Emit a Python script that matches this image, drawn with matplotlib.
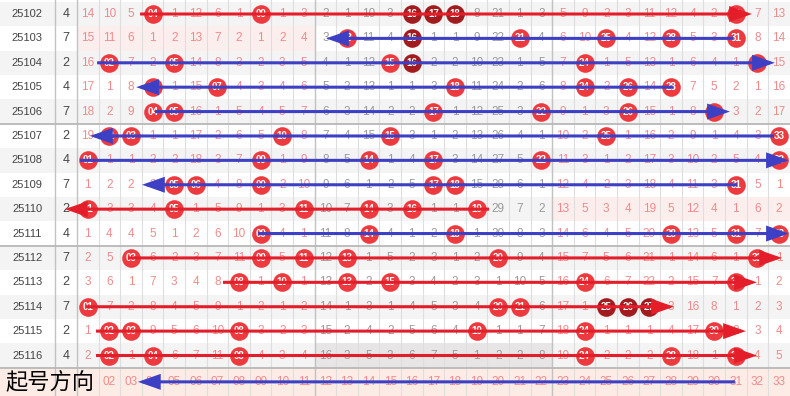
import numpy as np
import matplotlib.pyplot as plt
from matplotlib.patches import Rectangle

plt.rcParams['font.family'] = ['Liberation Sans', 'DejaVu Sans']

# issue numbers and the small digit column next to them
issues = ['25102', '25103', '25104', '25105', '25106', '25107', '25108', '25109',
          '25110', '25111', '25112', '25113', '25114', '25115', '25116']
tail_digit = [4, 7, 2, 4, 7, 2, 4, 7, 2, 4, 7, 2, 7, 2, 4]

# omission values for numbers 01..33, 0 = number drawn (ball)
omit = [
    [14, 10, 5, 0, 1, 12, 6, 1, 0, 1, 3, 2, 1, 10, 3, 0, 0, 0, 8, 21, 1, 3, 5, 9, 2, 3, 11, 12, 4, 2, 0, 7, 13],
    [15, 11, 6, 1, 2, 13, 7, 2, 1, 2, 4, 3, 0, 11, 4, 0, 1, 1, 9, 22, 0, 4, 6, 10, 0, 4, 12, 0, 5, 3, 0, 8, 14],
    [16, 0, 7, 2, 0, 14, 8, 3, 2, 3, 5, 4, 1, 12, 0, 0, 2, 2, 10, 23, 1, 5, 7, 0, 1, 5, 13, 1, 6, 4, 1, 0, 15],
    [17, 1, 8, 0, 1, 15, 0, 4, 3, 4, 6, 5, 2, 13, 1, 1, 3, 0, 11, 24, 2, 6, 8, 0, 2, 0, 14, 0, 7, 5, 2, 1, 16],
    [18, 2, 9, 0, 0, 16, 1, 5, 4, 5, 7, 6, 3, 14, 2, 2, 0, 1, 12, 25, 3, 0, 9, 1, 3, 0, 15, 1, 8, 0, 3, 2, 17],
    [19, 0, 0, 1, 1, 17, 2, 6, 5, 0, 8, 7, 4, 15, 0, 3, 1, 2, 13, 26, 4, 1, 10, 2, 0, 1, 16, 2, 9, 1, 4, 3, 0],
    [0, 1, 1, 2, 2, 18, 3, 7, 0, 1, 9, 8, 5, 0, 1, 4, 0, 3, 14, 27, 5, 0, 11, 3, 1, 2, 17, 3, 10, 2, 5, 4, 0],
    [1, 2, 2, 3, 0, 0, 4, 8, 0, 2, 10, 9, 6, 1, 2, 5, 0, 0, 15, 28, 6, 1, 12, 4, 2, 3, 18, 4, 11, 3, 0, 5, 1],
    [0, 3, 3, 4, 0, 1, 5, 9, 1, 3, 0, 10, 7, 0, 3, 0, 1, 1, 0, 29, 7, 2, 13, 5, 3, 4, 19, 5, 12, 4, 1, 6, 2],
    [1, 4, 4, 5, 1, 2, 6, 10, 0, 4, 1, 11, 8, 0, 4, 1, 2, 0, 1, 30, 8, 3, 14, 6, 4, 5, 20, 0, 13, 5, 0, 7, 0],
    [2, 5, 0, 6, 2, 3, 7, 11, 0, 5, 0, 12, 0, 1, 5, 2, 3, 1, 2, 0, 9, 4, 15, 7, 5, 6, 21, 1, 14, 6, 1, 0, 1],
    [3, 6, 1, 7, 3, 4, 8, 0, 1, 0, 1, 13, 0, 2, 0, 3, 4, 2, 3, 1, 10, 5, 16, 0, 6, 7, 22, 2, 15, 7, 0, 1, 2],
    [0, 7, 2, 8, 4, 5, 9, 1, 2, 1, 2, 14, 1, 3, 1, 4, 5, 3, 4, 0, 0, 6, 17, 1, 0, 0, 0, 3, 16, 8, 1, 2, 3],
    [1, 0, 0, 9, 5, 6, 10, 0, 3, 2, 3, 15, 2, 4, 2, 5, 6, 4, 0, 1, 1, 7, 18, 0, 1, 1, 1, 4, 17, 0, 2, 3, 4],
    [2, 0, 1, 0, 6, 7, 11, 0, 4, 3, 4, 16, 3, 5, 3, 6, 7, 5, 1, 2, 2, 8, 19, 0, 2, 2, 2, 0, 18, 1, 0, 4, 5],
]

# balls shown in dark red (row index, number)
dark_balls = [(0, 16), (0, 17), (0, 18), (1, 16), (2, 16), (12, 25), (12, 26), (12, 27)]

# zones without any drawn number (row index, zone 0..2, fill)
empty_zones = [(1, 0, '#fdeeee'), (8, 2, '#fdeeee'), (14, 1, '#e7e5e5')]

# footer labels visible (01 sits under the big caption)
footer_nums = list(range(2, 34))

# hand-drawn direction arrows, x in number-column units (row 15 = footer)
arrow_row = [0, 1, 2, 3, 4, 5, 6, 7, 8, 9, 10, 11, 12, 13, 14, 15.08]
arrow_from = [3.42, 30.87, 1.43, 28.09, 4.11, 32.77, 0.64, 31.06, 19.58, 8.88, 2.86, 7.26, 0.92, 1.38, 1.38, 30.96]
arrow_to = [31.75, 12.03, 32.81, 3.24, 30.73, 1.10, 33.46, 3.51, -0.06, 33.46, 33.14, 31.98, 28.14, 31.47, 31.98, 3.32]
arrow_color = ['r', 'b', 'b', 'b', 'b', 'b', 'b', 'b', 'r', 'b', 'r', 'r', 'r', 'r', 'r', 'b']

RED = '#ec3a3f'
DARK = '#a21c1f'
PINK_TXT = '#ef8b8b'
GRAY_TXT = '#9a9a9a'
LINE_COL = {'r': '#e31e2a', 'b': '#3d40c4'}

fig = plt.figure(figsize=(7.9, 3.96), dpi=100)
ax = fig.add_axes([0, 0, 1, 1])
x0, x1 = -3.065, 33.51
ax.set_xlim(x0, x1)
ax.set_ylim(15.66, -0.574)
ax.axis('off')

# row backgrounds
for i in range(len(issues)):
    if i % 2 == 0:
        ax.add_patch(Rectangle((x0, i - 0.5), x1 - x0, 1, color='#f4f4f4', lw=0, zorder=0))
for r, z, c in empty_zones:
    ax.add_patch(Rectangle((z * 11 + 0.5, r - 0.5), 11, 1, color=c, lw=0, zorder=0))
ax.add_patch(Rectangle((x0, 14.5), x1 - x0, 1.2, color='#fdece6', lw=0, zorder=0))

# grid lines
ax.vlines(np.arange(1.5, 33.5), -0.6, 15.7, color='#dedede', lw=0.8, zorder=1)
ax.vlines([-0.52, 0.5, 11.5, 22.5], -0.6, 15.7, color='#c2c2c2', lw=1.0, zorder=1)
ax.hlines([4.5, 9.5, 14.5], x0, x1, color='#b8b8b8', lw=1.3, zorder=1)

# issue column + digit column
for i, (iss, d) in enumerate(zip(issues, tail_digit)):
    ax.text(-1.81, i, iss, ha='center', va='center', fontsize=8, color='#444444', zorder=2)
    ax.text(0, i, str(d), ha='center', va='center', fontsize=9, color='#444444', zorder=2)

# omission numbers and balls
dark_set = set(dark_balls)
for i, row in enumerate(omit):
    for k, v in enumerate(row, start=1):
        if v == 0:
            col = DARK if (i, k) in dark_set else RED
            ax.scatter(k, i, s=180, color=col, lw=0, zorder=3)
            ax.text(k, i, '%02d' % k, ha='center', va='center', fontsize=7,
                    fontweight='bold', color='white', zorder=4)
        else:
            c = GRAY_TXT if 12 <= k <= 22 else PINK_TXT
            ax.text(k, i, str(v), ha='center', va='center', fontsize=8.5, color=c, zorder=2)

# footer labels
for k in footer_nums:
    ax.text(k, 15.08, '%02d' % k, ha='center', va='center', fontsize=8.5, color=PINK_TXT, zorder=2)
ax.text(-0.75, 15.1, '起号方向', ha='center', va='center', fontsize=16, color='black',
        family=['Noto Sans CJK SC', 'DejaVu Sans'], zorder=6)

# arrows
for y, a, b, c in zip(arrow_row, arrow_from, arrow_to, arrow_color):
    ax.annotate('', xy=(b, y), xytext=(a, y),
                arrowprops=dict(arrowstyle='-|>,head_length=0.8,head_width=0.28',
                                color=LINE_COL[c], lw=2.2, mutation_scale=15,
                                shrinkA=0, shrinkB=0, joinstyle='miter',
                                capstyle='butt'), zorder=5)

fig.savefig('out.png', dpi=100)
